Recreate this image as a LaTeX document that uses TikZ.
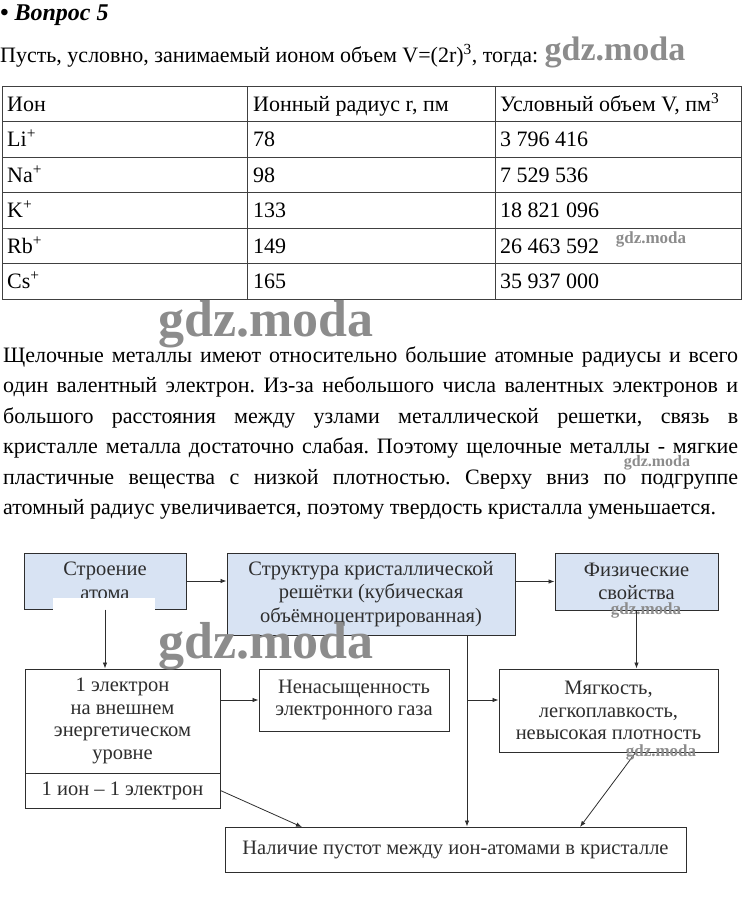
\documentclass[tikz,border=0pt]{standalone}
\usepackage{fontspec}
\setmainfont{Liberation Serif}
\usepackage{tikz}
\usetikzlibrary{positioning,arrows.meta,calc}
\definecolor{boxblue}{HTML}{D8E3F3}
\definecolor{ink}{HTML}{2E2E2E}
\frenchspacing

\begin{document}
\begin{tikzpicture}[x=1pt, y=-1pt,
  cell/.style={font=\fontsize{22}{24}\selectfont, inner sep=0pt, anchor=base west},
  para/.style={font=\fontsize{22}{24}\selectfont, inner sep=0pt, anchor=base west},
  grid/.style={draw=black!75, line width=0.9pt},
  topbox/.style={draw=ink, line width=1pt, fill=boxblue, align=center, text=ink,
    font=\fontsize{20.5}{23.5}\selectfont, inner sep=2pt},
  plainbox/.style={draw=ink, line width=1pt, fill=white, align=center, text=ink,
    font=\fontsize{20.5}{22.5}\selectfont, inner sep=2pt},
  arr/.style={-{Latex[length=6pt, width=4.5pt]}, draw=ink, line width=0.8pt},
  wm/.style={text=black!45, inner sep=0pt}]
\useasboundingbox (0,0) rectangle (743,903);

% heading and table
\node[cell, font=\fontsize{24}{26}\selectfont\bfseries\itshape] (q5) at (0,20) {• Вопрос 5};
\node[cell] (intro) at (0,62) {Пусть, условно, занимаемый ионом объем V=(2r)\textsuperscript{3}, тогда:};
\draw[grid] (2,86) rectangle (741,299);
\draw[grid] (2,121.5) -- (741,121.5);
\draw[grid] (2,157) -- (741,157);
\draw[grid] (2,192.5) -- (741,192.5);
\draw[grid] (2,228) -- (741,228);
\draw[grid] (2,263.5) -- (741,263.5);
\draw[grid] (247,86) -- (247,299);
\draw[grid] (495,86) -- (495,299);
\node[cell] (h1) at (7,111)  {Ион};
\node[cell] (h2) at (253,111) {Ионный радиус r, пм};
\node[cell] (h3) at (500,111) {Условный объем V, пм\textsuperscript{3}};
\node[cell] (li1) at (7,146.5)  {Li\textsuperscript{+}};
\node[cell] (li2) at (253,146.5) {78};
\node[cell] (li3) at (500,146.5) {3 796 416};
\node[cell] (na1) at (7,182)  {Na\textsuperscript{+}};
\node[cell] (na2) at (253,182) {98};
\node[cell] (na3) at (500,182) {7 529 536};
\node[cell] (k1) at (7,217.5)  {K\textsuperscript{+}};
\node[cell] (k2) at (253,217.5) {133};
\node[cell] (k3) at (500,217.5) {18 821 096};
\node[cell] (rb1) at (7,253)  {Rb\textsuperscript{+}};
\node[cell] (rb2) at (253,253) {149};
\node[cell] (rb3) at (500,253) {26 463 592};
\node[cell] (cs1) at (7,288.5)  {Cs\textsuperscript{+}};
\node[cell] (cs2) at (253,288.5) {165};
\node[cell] (cs3) at (500,288.5) {35 937 000};

% paragraph
\node[para] (p1) at (3,362) {\makebox[735pt][s]{Щелочные металлы имеют относительно большие атомные радиусы и всего}};
\node[para] (p2) at (3,392.5) {\makebox[735pt][s]{один валентный электрон. Из-за небольшого числа валентных электронов и}};
\node[para] (p3) at (3,423) {\makebox[735pt][s]{большого расстояния между узлами металлической решетки, связь в}};
\node[para] (p4) at (3,453.5) {\makebox[735pt][s]{кристалле металла достаточно слабая. Поэтому щелочные металлы - мягкие}};
\node[para] (p5) at (3,484) {\makebox[735pt][s]{пластичные вещества с низкой плотностью. Сверху вниз по подгруппе}};
\node[para] (p6) at (3,514.5) {атомный радиус увеличивается, поэтому твердость кристалла уменьшается.};

% scheme
\node[topbox, minimum width=162pt, minimum height=56pt] (atom) at (105,581) {Строение\\атома};
\node[topbox, minimum width=288pt, minimum height=82pt] (struct) at (371,594) {Структура кристаллической\\решётки (кубическая\\объёмноцентрированная)};
\node[topbox, minimum width=163pt, minimum height=57pt] (phys) at (636.5,581.5) {Физические\\свойства};
\node[plainbox, minimum width=195pt, minimum height=104pt] (elec) at (122.5,721) {1 электрон\\на внешнем\\энергетическом\\уровне};
\node[plainbox, minimum width=195pt, minimum height=35pt] (ion) at (122.5,790.5) {1 ион -- 1 электрон};
\node[plainbox, minimum width=190pt, minimum height=62pt] (gas) at (354,700) {Ненасыщенность\\электронного газа};
\node[plainbox, minimum width=219pt, minimum height=83pt] (soft) at (608.5,710.5) {Мягкость,\\легкоплавкость,\\невысокая плотность};
\node[plainbox, minimum width=461pt, minimum height=45pt] (voids) at (455.5,849.5) {Наличие пустот между ион-атомами в кристалле};
\fill[white] (53,598) rectangle (155,611);

\coordinate (trunk) at (467,635);
\coordinate (fork) at (467,700);
\coordinate (in1) at (302,827);
\coordinate (out2) at (636,752);
\coordinate (in2) at (580,827);
\draw[arr] (atom.east) -- (atom.east -| struct.west);
\draw[arr] (phys.west -| struct.east) -- (phys.west);
\draw[arr] (atom.south) -- (atom.south |- elec.north);
\draw[arr] (phys.south) -- (phys.south |- soft.north);
\draw[arr] (gas.west -| elec.east) -- (gas.west);
\draw[arr] (trunk) -- (trunk |- voids.north);
\draw[arr] (fork) -- (fork -| soft.west);
\draw[arr] (ion.east) -- (in1);
\draw[arr] (out2) -- (in2);

% watermarks
\node[wm, font=\fontsize{34}{34}\selectfont\bfseries] (wm1) at (615,52) {gdz.moda};
\node[wm, font=\fontsize{17}{17}\selectfont\bfseries] (wm2) at (651,239) {gdz.moda};
\node[wm, font=\fontsize{52}{52}\selectfont\bfseries] (wm3) at (266,324) {gdz.moda};
\node[wm, font=\fontsize{16}{16}\selectfont\bfseries] (wm4) at (657,463) {gdz.moda};
\node[wm, font=\fontsize{52}{52}\selectfont\bfseries] (wm5) at (266,646) {gdz.moda};
\node[wm, font=\fontsize{17}{17}\selectfont\bfseries] (wm6) at (646,610) {gdz.moda};
\node[wm, font=\fontsize{17}{17}\selectfont\bfseries] (wm7) at (661,752) {gdz.moda};
\end{tikzpicture}
\end{document}
